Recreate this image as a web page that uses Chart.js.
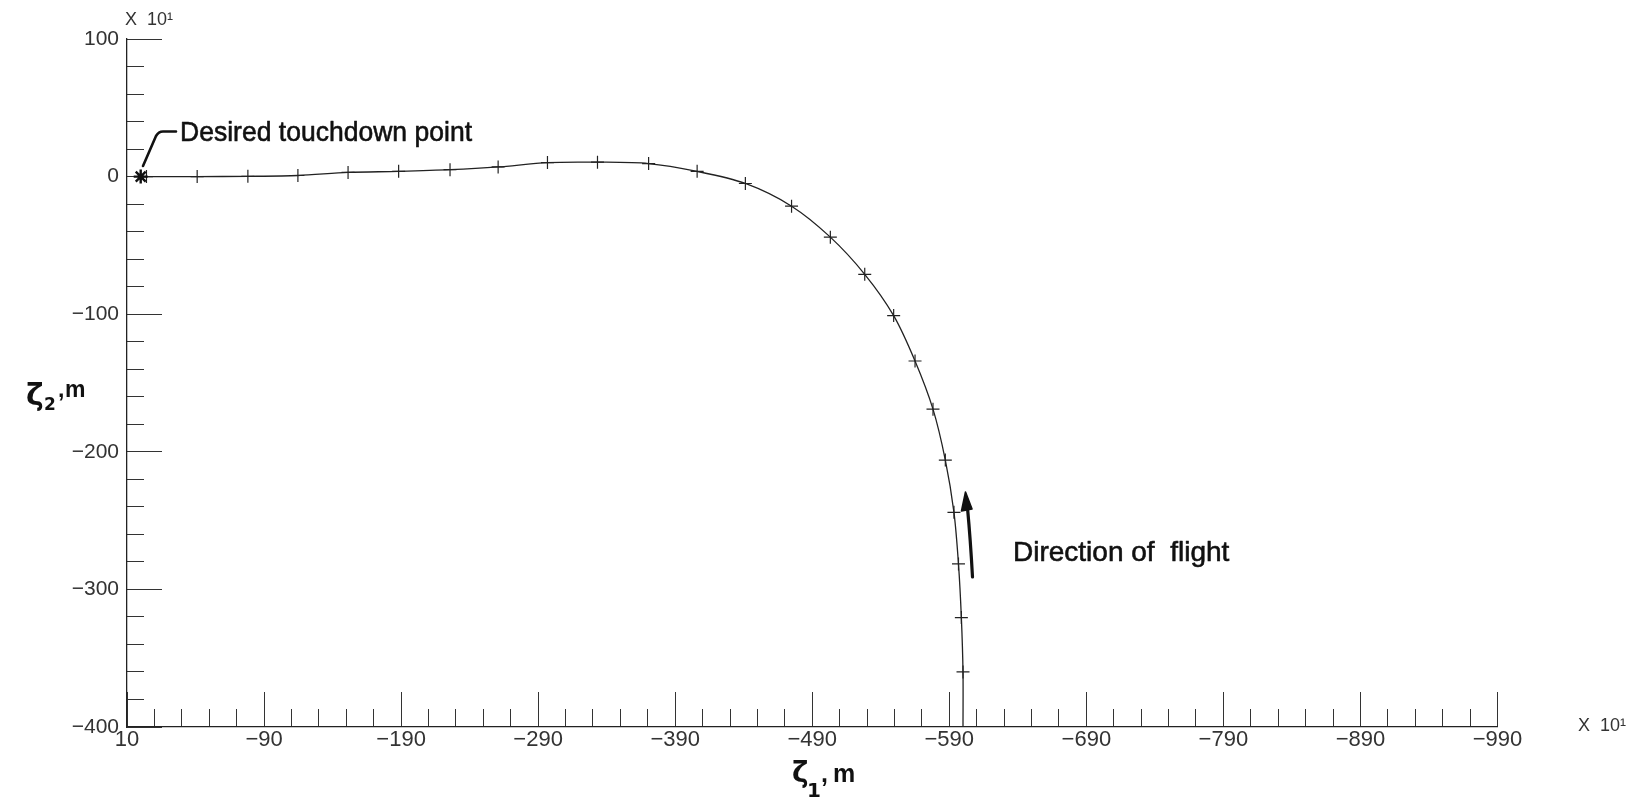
<!DOCTYPE html>
<html>
<head>
<meta charset="utf-8">
<title>Ground track to touchdown</title>
<script src="https://cdn.jsdelivr.net/npm/chart.js@4"></script>
<style>
  html, body { margin: 0; padding: 0; background: #ffffff; }
  canvas { display: block; }
</style>
</head>
<body>
<canvas id="track" width="1640" height="797"></canvas>
<script>
// Ground track in the ζ1–ζ2 plane, both axes in units of 10 m.
// The aircraft flies up from the lower right and turns left onto the runway line.

// Time marks along the flight path, in flight order.
const zeta1Marks = [-600.0, -598.8, -596.7, -593.4, -587.1, -578.1, -565.0, -549.4,
                    -528.3, -503.2, -474.9, -441.2, -406.0, -370.6, -333.3, -296.8,
                    -260.8, -225.7, -188.2, -151.3, -114.7, -78.2, -41.2, -4.2];
const zeta2Marks = [-360.0, -320.5, -281.5, -244.0, -206.0, -169.0, -134.0, -101.0,
                    -71.0, -44.0, -21.5, -5.0, 3.8, 9.5, 10.5, 10.2,
                    7.0, 5.0, 3.8, 3.0, 0.8, 0.2, 0.0, 0.0];

// Where the plotted track begins and the desired touchdown point.
const pathStartZeta1 = [-600];
const pathStartZeta2 = [-400];
const touchdownZeta1 = [0];
const touchdownZeta2 = [0];

// Axis ranges and tick spacing (units of 10 m).
const zeta1Range = [-990, 10];
const zeta2Range = [-400, 100];
const majorStep = 100;
const minorStep = 20;

const toPoints = (xs, ys) => xs.map((x, i) => ({ x, y: ys[i] }));
const markPoints = toPoints(zeta1Marks, zeta2Marks);
const touchdownPoints = toPoints(touchdownZeta1, touchdownZeta2);
const trackPoints = toPoints(pathStartZeta1, pathStartZeta2)
  .concat(markPoints, touchdownPoints);

// Use a narrow face for the ζ1 tick labels when one is installed.
function fontInstalled(name) {
  const c = document.createElement('canvas').getContext('2d');
  const probe = 'mmmwwwiiil0123456789';
  c.font = '40px monospace';
  const base = c.measureText(probe).width;
  c.font = '40px "' + name + '", monospace';
  return c.measureText(probe).width !== base;
}
const narrow = fontInstalled('Liberation Sans Narrow');
const xTickFont = narrow
  ? { family: '"Liberation Sans Narrow"', size: 25 }
  : { family: '"Liberation Sans"', size: 22 };

const minusSign = v => String(v).replace('-', '\u2212');
const ink = '#222222';
const tickInk = '#333333';

const fixedWidth = w => scale => { scale.width = w; };
const fixedHeight = h => scale => { scale.height = h; };

// Tick-mark-only axes: marks point inward from the axis line, no labels.
function tickAxis(position, range, step, length, reverse) {
  const horizontal = position === 'bottom';
  return {
    type: 'linear',
    position,
    reverse: !!reverse,
    min: range[0],
    max: range[1],
    weight: step === minorStep ? 0 : 1,
    afterFit: horizontal ? fixedHeight(0) : fixedWidth(0),
    grid: { drawOnChartArea: false, tickLength: -length, tickColor: tickInk, tickWidth: 1 },
    border: { display: false },
    ticks: { stepSize: step, display: false }
  };
}

// Captions, leader line, flight-direction arrow and axis names.
const notes = {
  id: 'notes',
  afterDraw(chart) {
    const ctx = chart.ctx;
    ctx.save();
    ctx.fillStyle = '#111111';
    ctx.strokeStyle = '#111111';
    ctx.lineCap = 'round';
    ctx.lineJoin = 'round';
    ctx.textBaseline = 'alphabetic';
    ctx.textAlign = 'left';

    // leader from the touchdown mark to its caption
    ctx.lineWidth = 2.6;
    ctx.beginPath();
    ctx.moveTo(143, 166);
    ctx.lineTo(156, 136);
    ctx.quadraticCurveTo(158.5, 131.5, 163, 131.5);
    ctx.lineTo(176, 131.5);
    ctx.stroke();

    // captions, slightly heavier than the tick labels
    ctx.font = '28px "Liberation Sans", sans-serif';
    ctx.lineWidth = 0.6;
    const caption = (text, x, y, w) => {
      ctx.fillText(text, x, y, w);
      ctx.strokeText(text, x, y, w);
    };
    caption('Desired touchdown point', 180, 141, 292);
    caption('Direction of  flight', 1013, 561, 220);

    // arrow along the final approach
    ctx.lineWidth = 3.2;
    ctx.beginPath();
    ctx.moveTo(972.5, 577);
    ctx.quadraticCurveTo(970.5, 540, 967.5, 508);
    ctx.stroke();
    ctx.lineWidth = 1.6;
    ctx.beginPath();
    ctx.moveTo(965.5, 492);
    ctx.lineTo(961.5, 511);
    ctx.lineTo(972, 509);
    ctx.closePath();
    ctx.fill();
    ctx.stroke();

    // axis names
    const axisName = (x, base, zSize, sub, subX, subBase, subSize, commaX, mX, restBase, restSize) => {
      ctx.font = 'bold ' + zSize + 'px "DejaVu Sans", sans-serif';
      ctx.fillText('\u03B6', x, base);
      ctx.font = 'bold ' + subSize + 'px "DejaVu Sans", sans-serif';
      ctx.fillText(sub, subX, subBase);
      ctx.font = 'bold ' + restSize + 'px "Liberation Sans", sans-serif';
      ctx.fillText(',', commaX, restBase);
      ctx.fillText('m', mX, restBase);
    };
    axisName(26, 405, 30, '2', 44, 410, 17, 58, 65, 397, 23);
    axisName(792, 782, 28, '1', 807, 797, 20, 821, 833, 782, 25);

    // scale multipliers
    ctx.fillStyle = tickInk;
    ctx.font = '18px "Liberation Sans", sans-serif';
    ctx.textBaseline = 'middle';
    ctx.fillText('X  10\u00B9', 125, 20);
    ctx.fillText('X  10\u00B9', 1578, 726);
    ctx.restore();
  }
};

new Chart(document.getElementById('track'), {
  type: 'scatter',
  data: {
    datasets: [
      {
        label: 'track',
        data: trackPoints,
        showLine: true,
        tension: 0.3,
        borderColor: ink,
        borderWidth: 1.3,
        pointRadius: 0,
        order: 3
      },
      {
        label: 'time marks',
        data: markPoints,
        showLine: false,
        pointStyle: 'cross',
        pointRadius: 6.5,
        pointBorderWidth: 1.2,
        pointBorderColor: ink,
        order: 2
      },
      {
        label: 'touchdown',
        data: touchdownPoints,
        showLine: false,
        pointStyle: 'star',
        pointRadius: 7,
        pointBorderWidth: 2.4,
        pointBorderColor: '#111111',
        order: 1
      }
    ]
  },
  options: {
    responsive: false,
    animation: false,
    events: [],
    layout: { padding: { top: 39, right: 142.5, bottom: 0, left: 0 } },
    plugins: { legend: { display: false }, tooltip: { enabled: false } },
    scales: {
      x: {
        type: 'linear',
        position: 'bottom',
        reverse: true,
        min: zeta1Range[0],
        max: zeta1Range[1],
        weight: 2,
        afterFit: fixedHeight(70),
        grid: { drawOnChartArea: false, drawTicks: false },
        border: { display: true, color: ink, width: 1.3 },
        ticks: {
          stepSize: majorStep,
          autoSkip: false,
          maxRotation: 0,
          padding: 0,
          color: tickInk,
          font: xTickFont,
          callback: v => minusSign(v)
        }
      },
      xMajor: tickAxis('bottom', zeta1Range, majorStep, 35, true),
      xMinor: tickAxis('bottom', zeta1Range, minorStep, 18, true),
      y: {
        type: 'linear',
        position: 'left',
        min: zeta2Range[0],
        max: zeta2Range[1],
        weight: 2,
        afterFit: fixedWidth(127),
        grid: { drawOnChartArea: false, drawTicks: false },
        border: { display: true, color: ink, width: 1.3 },
        ticks: {
          stepSize: majorStep,
          autoSkip: false,
          padding: 8,
          color: tickInk,
          font: { family: '"Liberation Sans"', size: 21 },
          callback: v => minusSign(v)
        }
      },
      yMajor: tickAxis('left', zeta2Range, majorStep, 35),
      yMinor: tickAxis('left', zeta2Range, minorStep, 17)
    }
  },
  plugins: [notes]
});
</script>
</body>
</html>
